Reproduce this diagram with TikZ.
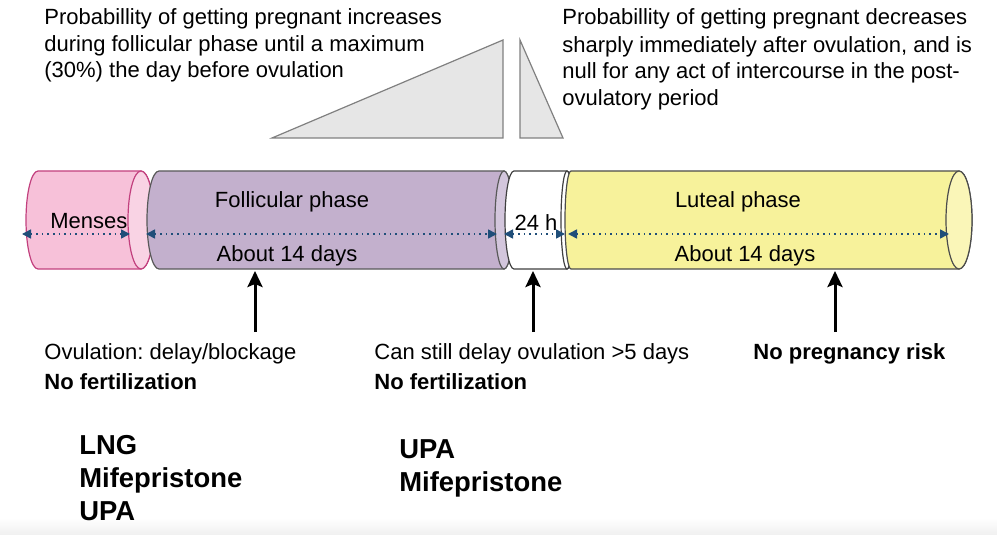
\documentclass[tikz,border=0pt]{standalone}
\usepackage{fontspec}
\setmainfont{Liberation Sans}
\usetikzlibrary{arrows.meta}
\frenchspacing

\definecolor{pinkbody}{HTML}{F7C1D9}
\definecolor{pinkface}{HTML}{F9D3E4}
\definecolor{pinkedge}{HTML}{C2407E}
\definecolor{lilacbody}{HTML}{C3B0CD}
\definecolor{lilacface}{HTML}{D3C6DC}
\definecolor{yellowbody}{HTML}{F7F29B}
\definecolor{yellowface}{HTML}{FAF6B8}
\definecolor{spanblue}{HTML}{1F4E79}
\definecolor{wedgegray}{HTML}{E6E6E6}

% #1 back x, #2 front x, #3 back rx, #4 front rx, #5 body, #6 face, #7 edge
\newcommand{\phasecyl}[7]{%
  \filldraw[fill=#5,draw=#7,line width=0.6pt] (#1,171)
    arc[start angle=90,end angle=270,x radius=#3,y radius=24.5pt] -- (#2,269)
    arc[start angle=-90,end angle=90,x radius=#4,y radius=24.5pt] -- cycle;
  \filldraw[fill=#6,draw=#7,line width=0.6pt] (#2,220) ellipse[x radius=#4,y radius=24.5pt];
}

\tikzset{
  txt/.style={inner sep=0pt,anchor=base west,align=left,font=\fontsize{11}{13.5}\selectfont},
  midtxt/.style={inner sep=0pt,anchor=base,font=\fontsize{11}{13.5}\selectfont},
  drugs/.style={inner sep=0pt,anchor=base west,align=left,font=\fontsize{13.7}{16.5}\selectfont\bfseries},
  span/.style={spanblue,dotted,line width=0.8pt,{Triangle[length=4.5pt,width=4.5pt]}-{Triangle[length=4.5pt,width=4.5pt]}},
  pointer/.style={black,line width=1.5pt,-{Stealth[length=8pt,width=7.5pt,inset=1.5pt]}},
  wedge/.style={fill=wedgegray,draw=gray,line width=0.6pt}
}

\begin{document}
\begin{tikzpicture}[x=0.5pt,y=-0.5pt]
  \useasboundingbox (0,0) rectangle (997,535);
  \shade[top color=white,bottom color=gray!12,draw=none] (0,518) rectangle (997,535);

  % probability wedges
  \filldraw[wedge] (272,138) -- (503,40) -- (503,138) -- cycle;
  \filldraw[wedge] (520,40) -- (563,138) -- (520,138) -- cycle;

  % (base anchor sits on the last line)
  \node[txt,font=\fontsize{11}{13.25}\selectfont] (riseText) at (44,78) {Probabillity of getting pregnant increases\\during follicular phase until a maximum\\(30\%) the day before ovulation};
  \node[txt] (fallText) at (562,106) {Probabillity of getting pregnant decreases\\sharply immediately after ovulation, and is\\null for any act of intercourse in the post-\\ovulatory period};

  % cycle phases
  \phasecyl{38}{141}{6pt}{6.5pt}{pinkbody}{pinkface}{pinkedge}
  \phasecyl{159}{504}{6pt}{4.5pt}{lilacbody}{lilacface}{gray!70!black}
  \phasecyl{514}{567}{4.5pt}{3pt}{white}{white}{black!75}
  \phasecyl{571}{959}{3pt}{6.5pt}{yellowbody}{yellowface}{black!70}

  \node[txt] (menses) at (50,228) {Menses};
  \node[midtxt] (follicular) at (292,207) {Follicular phase};
  \node[midtxt] (follDays) at (287,262) {About 14 days};
  \node[midtxt] (window) at (536,230) {24 h};
  \node[midtxt] (luteal) at (738,207) {Luteal phase};
  \node[midtxt] (lutDays) at (745,262) {About 14 days};

  \coordinate (m1) at (22,234);   \coordinate (m2) at (130,234);
  \coordinate (f1) at (146,234);  \coordinate (f2) at (497,234);
  \coordinate (h1) at (504,234);  \coordinate (h2) at (565,234);
  \coordinate (l1) at (568,234);  \coordinate (l2) at (949,234);
  \draw[span] (m1) -- (m2);
  \draw[span] (f1) -- (f2);
  \draw[span] (h1) -- (h2);
  \draw[span] (l1) -- (l2);

  % effects of emergency contraception
  \coordinate (tipA) at (255,271); \coordinate (baseA) at (255,332);
  \coordinate (tipB) at (533,271); \coordinate (baseB) at (533,332);
  \coordinate (tipC) at (835,271); \coordinate (baseC) at (835,332);
  \draw[pointer] (baseA) -- (tipA);
  \draw[pointer] (baseB) -- (tipB);
  \draw[pointer] (baseC) -- (tipC);

  \node[txt] (effectA) at (44,359) {Ovulation: delay/blockage};
  \node[txt] (resultA) at (44,389) {\bfseries No fertilization};
  \node[txt] (effectB) at (374,359) {Can still delay ovulation >5 days};
  \node[txt] (resultB) at (374,389) {\bfseries No fertilization};
  \node[txt] (effectC) at (753,359) {\bfseries No pregnancy risk};

  \node[drugs] (drugsA) at (79,520) {LNG\\Mifepristone\\UPA};
  \node[drugs] (drugsB) at (399,491) {UPA\\Mifepristone};
\end{tikzpicture}
\end{document}
